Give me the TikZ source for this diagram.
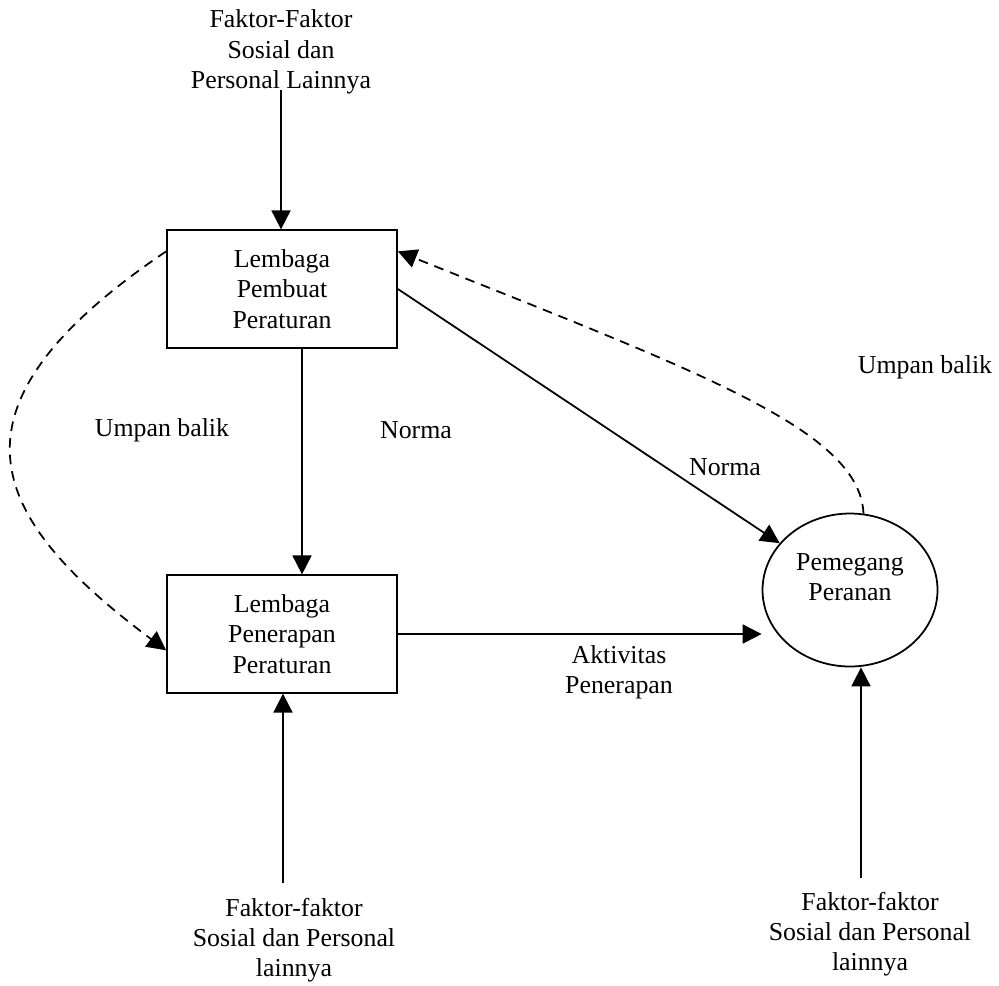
\documentclass[tikz,border=0pt]{standalone}
\usepackage{fontspec}
\setmainfont{Liberation Serif}
\usetikzlibrary{arrows.meta,shapes.geometric}

\begin{document}
\begin{tikzpicture}[x=0.02cm,y=-0.02cm,
  font=\fontsize{14.7pt}{17.2pt}\selectfont,
  arr/.style={line width=1pt,-{Triangle[length=0.38cm,width=0.38cm]}},
  fb/.style={arr,dash pattern=on 5.5pt off 4pt},
  box/.style={draw,line width=1pt,minimum width=4.6cm,minimum height=2.35cm,align=center},
  txt/.style={align=center,inner sep=0pt}]
  \useasboundingbox (0,0) rectangle (999,985);

  \node[box] (lp) at (282,289) {Lembaga\\Pembuat\\Peraturan};
  \node[box] (la) at (282,634) {Lembaga\\Penerapan\\Peraturan};
  \node[draw,ellipse,line width=1pt,minimum width=3.5cm,minimum height=3.06cm] (pp) at (850,590) {};
  \node[txt] (ppt) at (850,577) {Pemegang\\Peranan};

  \node[txt] (ftop) at (281,52) {Faktor-Faktor\\Sosial dan\\Personal Lainnya};
  \node[txt] (fbl) at (294,940) {Faktor-faktor\\Sosial dan Personal\\lainnya};
  \node[txt] (fbr) at (870,934) {Faktor-faktor\\Sosial dan Personal\\lainnya};
  \coordinate (stop) at (281,90);
  \coordinate (sbl) at (283,883);
  \coordinate (sbr) at (861,878);

  \node (nm1) at (416,430) {Norma};
  \node (nm2) at (725,467) {Norma};
  \node (ub1) at (162,430) {Umpan balik};
  \node (ub2) at (925,367) {Umpan balik};
  \node[txt] (akt) at (619,672) {Aktivitas\\Penerapan};

  % arus norma dan aktivitas
  \draw[arr] (stop) -- (stop |- lp.north);
  \draw[arr] ([xshift=0.4cm]lp.south) -- ([xshift=0.4cm]la.north);
  \draw[arr] (lp.east) -- (pp);
  \draw[arr] (la.east) -- (la.east -| pp.west);
  \draw[arr] (sbl) -- (sbl |- la.south);
  \draw[arr] (sbr) -- (sbr |- pp.south);

  % umpan balik
  \draw[fb] (lp.162) .. controls (-64,407) and (-15,515) .. (la.188);
  \draw[fb] (pp.80) .. controls (860,430) and (699,372) .. (lp.18);
\end{tikzpicture}
\end{document}
